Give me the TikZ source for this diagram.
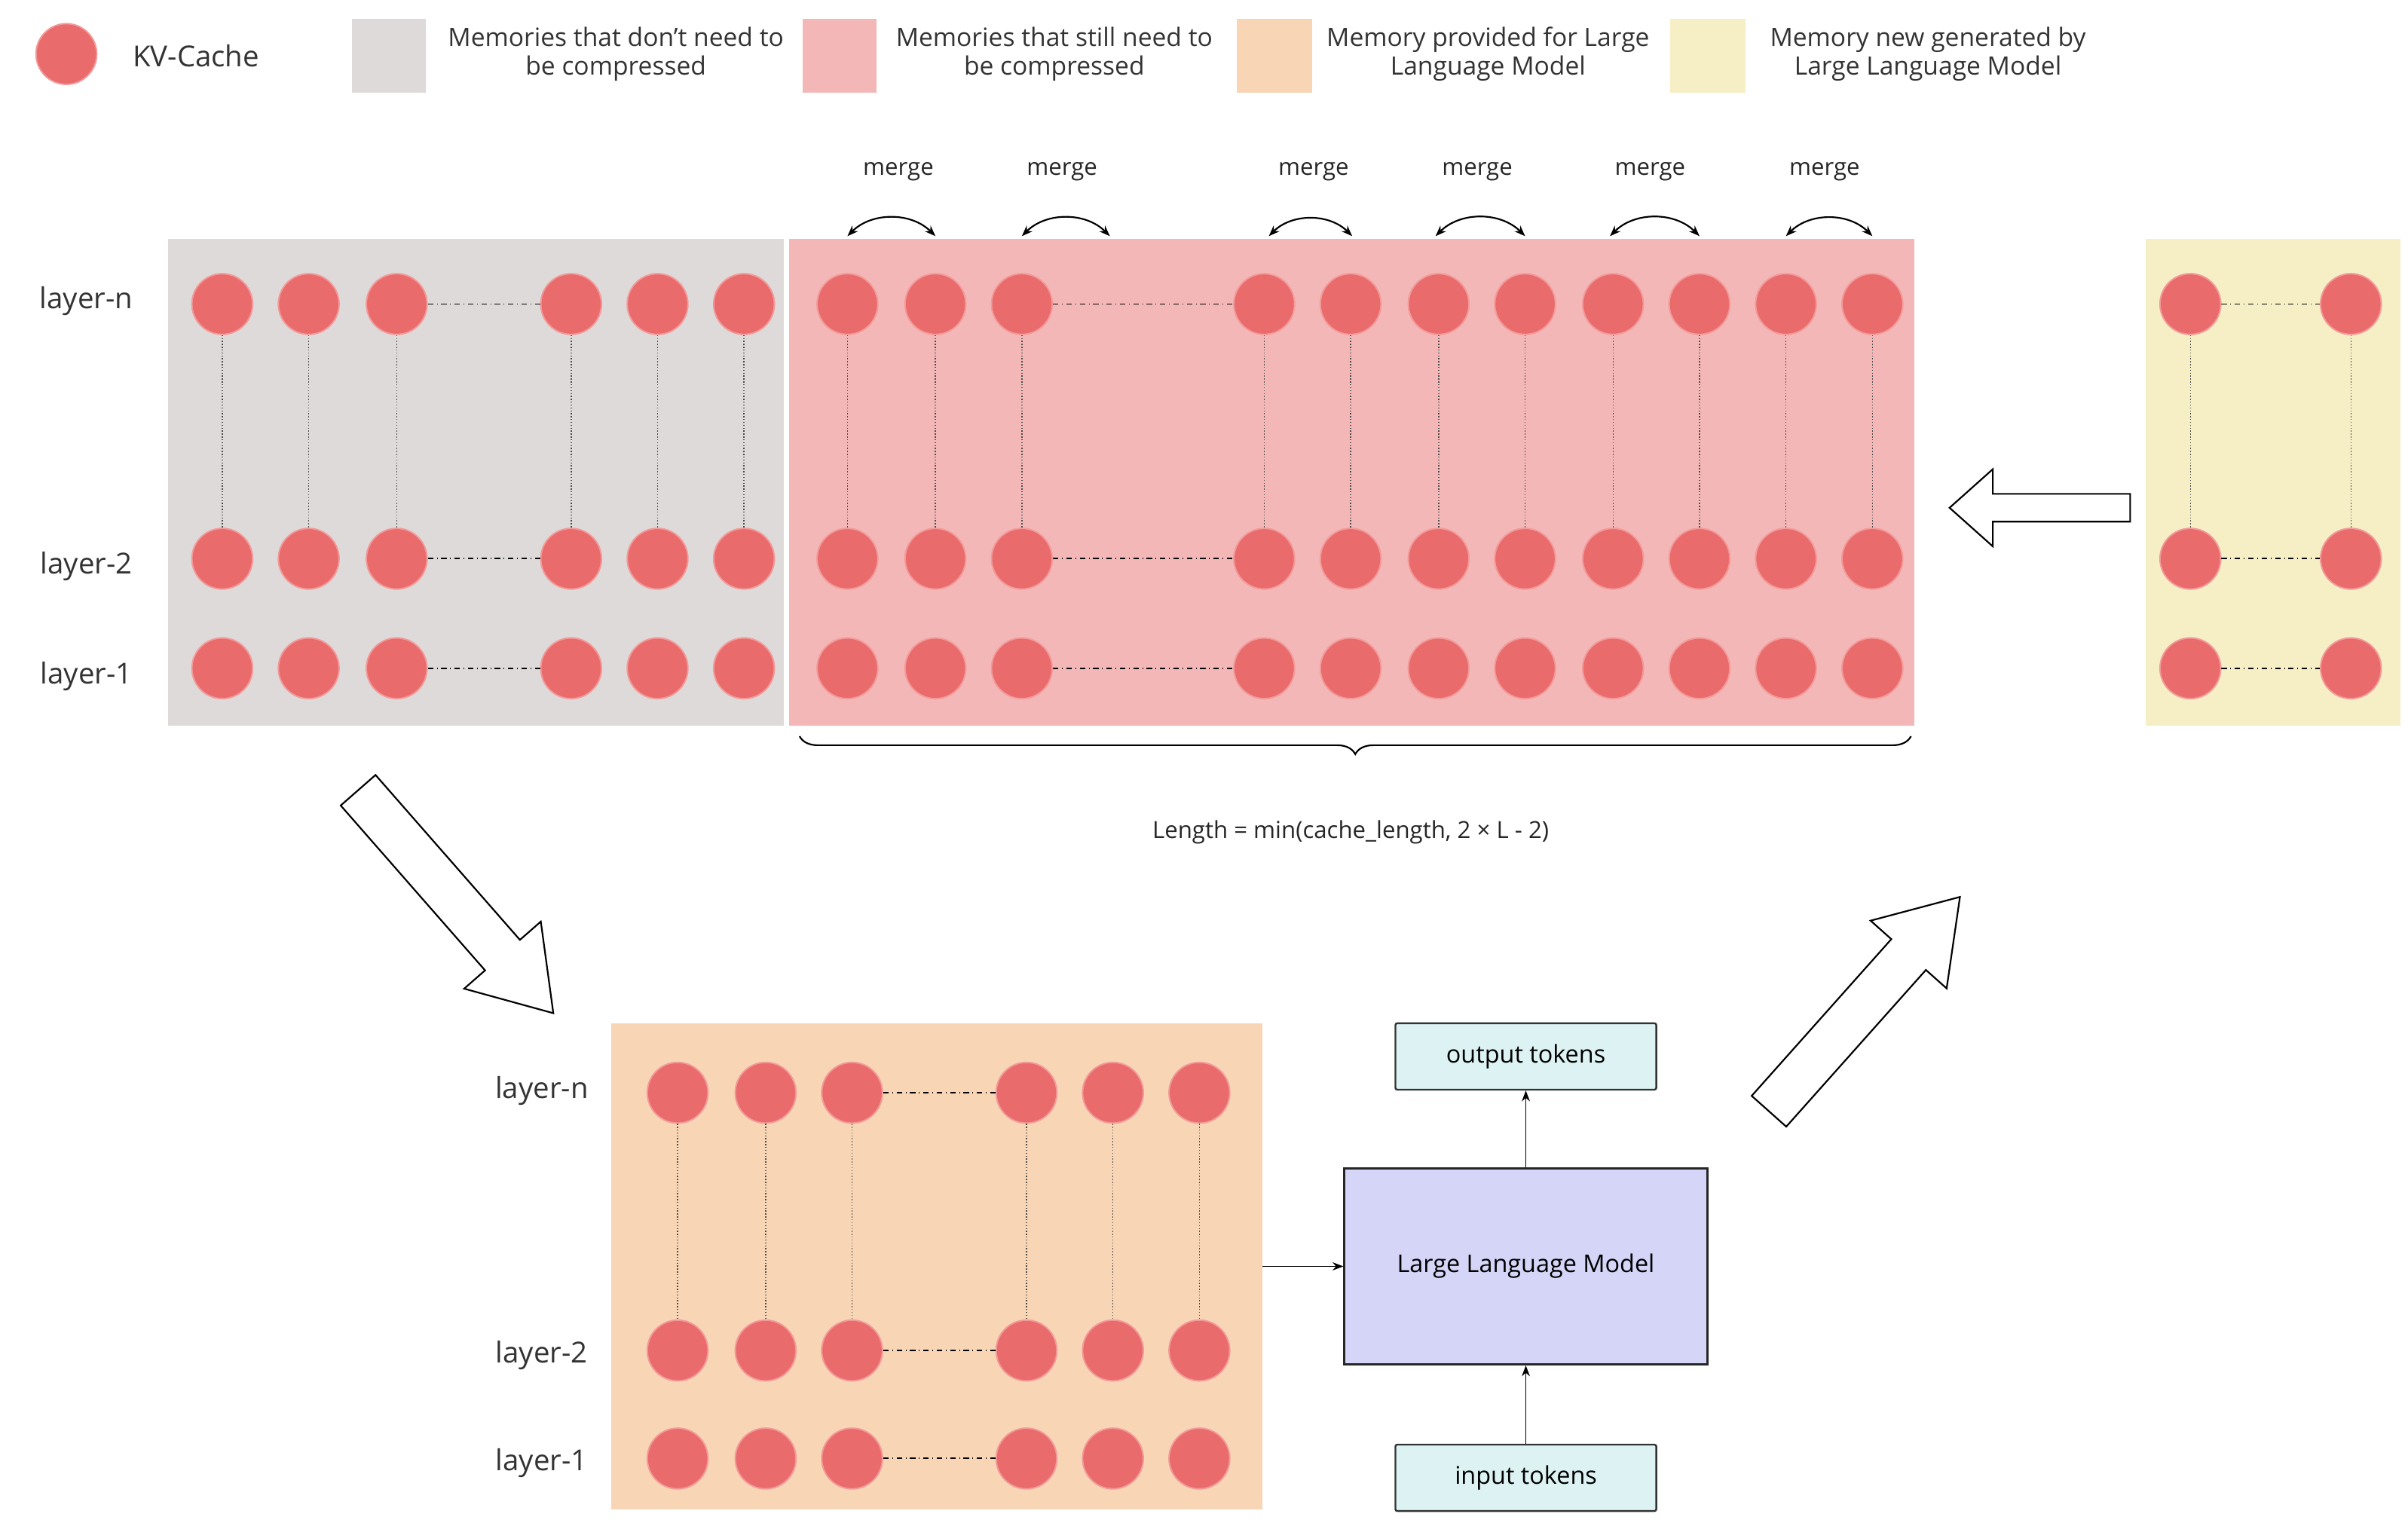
\documentclass[tikz,border=0pt]{standalone}
\usepackage{fontspec}
\setmainfont{Open Sans}
\usetikzlibrary{decorations.pathreplacing,arrows.meta}
\definecolor{kvfill}{HTML}{EA6B6B}
\definecolor{kvdraw}{HTML}{F29A9A}
\definecolor{grayb}{HTML}{DEDAD9}
\definecolor{pinkb}{HTML}{F4B7B7}
\definecolor{orangeb}{HTML}{F8D5B4}
\definecolor{yellowb}{HTML}{F6EEC5}
\definecolor{llmb}{HTML}{D4D5F7}
\definecolor{tokb}{HTML}{DDF3F3}
\tikzset{
 x=0.03cm,y=-0.03cm,
 kv/.style={circle,fill=kvfill,draw=kvdraw,line width=0.8pt,minimum size=1.18cm,inner sep=0},
 box/.style={draw=none},
 vline/.style={densely dotted,line width=0.6pt,draw=black!70},
 hline/.style={dash dot,line width=0.8pt},
 lay/.style={font=\fontsize{16}{18}\selectfont,text=black!80},
 leg/.style={font=\fontsize{14}{16}\selectfont,align=center,text=black!80},
 mrg/.style={font=\fontsize{13}{15}\selectfont,text=black!85},
 tok/.style={draw=black!80,fill=tokb,line width=1pt,minimum width=169*0.03cm,minimum height=43*0.03cm,font=\fontsize{13.5}{15}\selectfont,rounded corners=1pt},
 pics/harrow/.style n args={4}{code={
   \draw[line width=0.9pt,fill=white] (0,-#2)--(#1-#3,-#2)--(#1-#3,-#4)--(#1,0)--(#1-#3,#4)--(#1-#3,#2)--(0,#2)--cycle;}}
}
\begin{document}
\begin{tikzpicture}
\useasboundingbox (0,0) rectangle (1560,988.7);
% legend
\node[kv] (leg-kv) at (43,35) {};
\node[leg,font=\fontsize{16}{18}\selectfont] (leg-kvt) at (127,36) {KV-Cache};
\fill[grayb] (228,12) rectangle (276,60);
\node[leg] (leg1) at (399,35) {Memories that don't need to\\be compressed};
\fill[pinkb] (520,12) rectangle (568,60);
\node[leg] (leg2) at (683,35) {Memories that still need to\\be compressed};
\fill[orangeb] (801,12) rectangle (850,60);
\node[leg] (leg3) at (964,35) {Memory provided for Large\\Language Model};
\fill[yellowb] (1082,12) rectangle (1131,60);
\node[leg] (leg4) at (1249,35) {Memory new generated by\\Large Language Model};
% backgrounds
\fill[grayb] (109,155) rectangle (508,470);
\fill[pinkb] (511,155) rectangle (1240,470);
\fill[yellowb] (1390,155) rectangle (1555,470);
\fill[orangeb] (396,663) rectangle (818,978);
% layer labels
\node[lay] (ln) at (56,195) {layer-n};
\node[lay] (l2) at (56,367) {layer-2};
\node[lay] (l1) at (56,438) {layer-1};
\node[lay] (bln) at (351,707) {layer-n};
\node[lay] (bl2) at (351,878) {layer-2};
\node[lay] (bl1) at (351,948) {layer-1};
% gray circles
\foreach \y/\r in {197/n,362/2,433/1}{
 \foreach \x [count=\c] in {144,200,257,370,426,482} \node[kv] (g-\r-\c) at (\x,\y) {};
 \foreach \x [count=\c] in {549,606,662,819,875,932,988,1045,1101,1157,1213} \node[kv] (p-\r-\c) at (\x,\y) {};
 \foreach \x [count=\c] in {1419,1523} \node[kv] (y-\r-\c) at (\x,\y) {};
 \draw[hline] (g-\r-3)--(g-\r-4);
 \draw[hline] (p-\r-3)--(p-\r-4);
 \draw[hline] (y-\r-1)--(y-\r-2);
}
\foreach \c in {1,...,6} \draw[vline] (g-n-\c)--(g-2-\c);
\foreach \c in {1,...,11} \draw[vline] (p-n-\c)--(p-2-\c);
\foreach \c in {1,2} \draw[vline] (y-n-\c)--(y-2-\c);
% bottom circles
\foreach \y/\r in {708/n,875/2,945/1}{
 \foreach \x [count=\c] in {439,496,552,665,721,777} \node[kv] (o-\r-\c) at (\x,\y) {};
 \draw[hline] (o-\r-3)--(o-\r-4);
}
\foreach \c in {1,...,6} \draw[vline] (o-n-\c)--(o-2-\c);
% merges
\foreach \a/\b/\m in {549/606/582,662/719/688,822/876/851,930/988/957,1043/1101/1069,1157/1213/1182}{
 \coordinate (ma-\m) at (\a,153);
 \coordinate (mb-\m) at (\b,153);
 \draw[{Stealth[length=6pt]}-{Stealth[length=6pt]},line width=0.9pt,bend left=45] (ma-\m) to (mb-\m);
 \node[mrg] (mt-\m) at (\m,111) {merge};
}
% brace
\coordinate (br1) at (1238,477);
\coordinate (br2) at (518,477);
\draw[decorate,decoration={brace,amplitude=0.35cm},line width=0.9pt] (br1)--(br2);
\node[font=\fontsize{13}{15}\selectfont,text=black!85] (len) at (875,539) {Length = min(cache\_length, 2 × L - 2)};
% hollow arrows
\pic[rotate=180] at (1380,329) {harrow={117}{9}{28}{25}};
\pic[rotate=-48.8] at (232,512) {harrow={192}{15}{50}{33}};
\pic[rotate=48.3] at (1146,720) {harrow={186}{15}{50}{33}};
% LLM
\node[draw=black!85,fill=llmb,line width=1.2pt,minimum width=235*0.03cm,minimum height=127*0.03cm,font=\fontsize{13.5}{15}\selectfont] (llm) at (988.5,820.5) {Large Language Model};
\node[tok] (out) at (988.5,684.5) {output tokens};
\node[tok] (in) at (988.5,957.5) {input tokens};
\draw[-{Stealth[length=6pt]},line width=0.6pt] (llm.north)--(out.south);
\draw[-{Stealth[length=6pt]},line width=0.6pt] (in.north)--(llm.south);
\coordinate (oe) at (818,820.5);
\draw[-{Stealth[length=6pt]},line width=0.6pt] (oe)--(llm.west);
\end{tikzpicture}
\end{document}
